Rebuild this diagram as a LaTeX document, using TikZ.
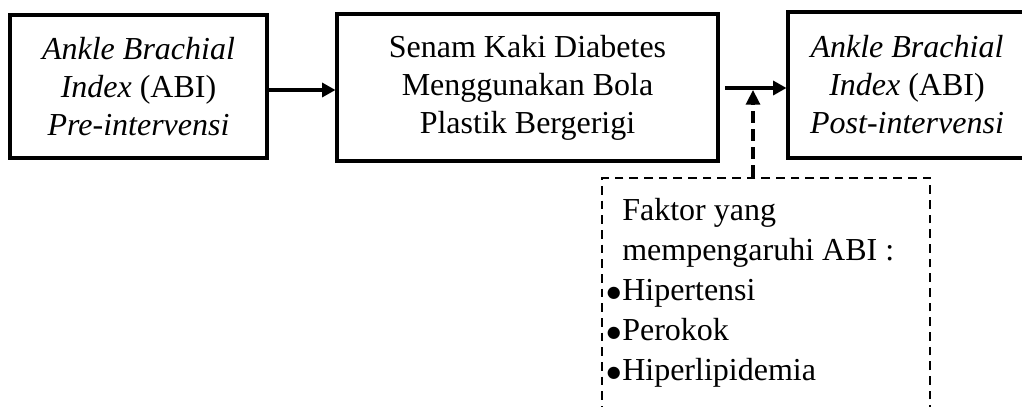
\documentclass[tikz,border=0pt]{standalone}
\usepackage{fontspec}
\setmainfont{Liberation Serif}
\newfontfamily\symfont{DejaVu Sans}
\usetikzlibrary{arrows.meta}
\newcommand{\bul}{\llap{\raisebox{2.6pt}{\fontsize{12}{12}\selectfont\symfont ●}\hspace{1pt}}}
\begin{document}
\begin{tikzpicture}[x=0.75pt,y=-0.75pt,
  boxstyle/.style={draw,line width=2.3pt,inner sep=0pt,align=center,
    font=\fontsize{24}{28.5}\selectfont},
  arr/.style={line width=2.4pt,-{Triangle[length=10pt,width=10.5pt]}},
  darr/.style={line width=2.4pt,dash pattern=on 9pt off 4.5pt,-{Triangle[length=11pt,width=10.5pt]}},
  dbox/.style={draw,line width=2.2pt,dash pattern=on 6.5pt off 4.5pt,inner sep=0pt},
  ftext/.style={align=left,inner sep=0pt,font=\fontsize{24}{30}\selectfont}]
\useasboundingbox (0,0) rectangle (1022,407);
\clip (0,0) rectangle (1022,407);
\node[boxstyle,minimum width=257*0.75pt,minimum height=143*0.75pt] (b1) at (138.5,86.5)
  {\textit{Ankle Brachial}\\\textit{Index} (ABI)\\\textit{Pre-intervensi}};
\node[boxstyle,minimum width=381*0.75pt,minimum height=147*0.75pt] (b2) at (527.5,87.5)
  {Senam Kaki Diabetes\\Menggunakan Bola\\Plastik Bergerigi};
\node[boxstyle,minimum width=238*0.75pt,minimum height=146*0.75pt] (b3) at (907,85)
  {\textit{Ankle Brachial}\\\textit{Index} (ABI)\\\textit{Post-intervensi}};
\node[dbox,minimum width=328*0.75pt,minimum height=260*0.75pt] (fk) at (766,308) {};
\node[ftext,anchor=north west] (ft) at (622,198)
  {Faktor yang\\mempengaruhi ABI :\\\bul Hipertensi\\\bul Perokok\\\bul Hiperlipidemia};
\coordinate (a1) at (300,90);
\coordinate (a2) at (750,88);
\coordinate (j) at (753,90);
\draw[arr] (b1.east |- a1) -- (b2.west |- a1);
\draw[arr,shorten <=4pt] (b2.east |- a2) -- (b3.west |- a2);
\draw[darr] (fk.north -| j) -- (j);
\end{tikzpicture}
\end{document}
